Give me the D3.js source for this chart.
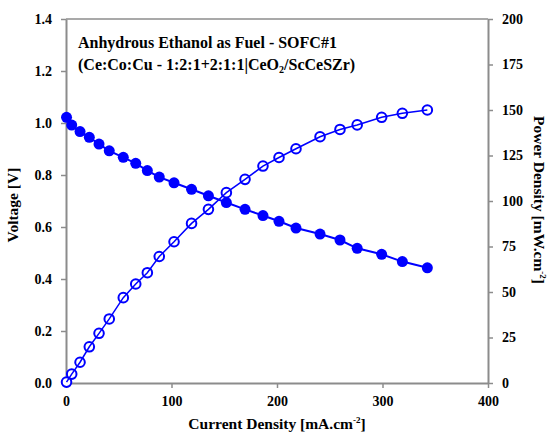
<!DOCTYPE html>
<html>
<head>
<meta charset="utf-8">
<script src="https://cdn.jsdelivr.net/npm/d3@7"></script>
<style>
  body { margin: 0; background: #fff; }
</style>
</head>
<body>
<div id="chart"></div>
<script>
// chart size and plot box
const FRAME_WIDTH = 548;
const FRAME_HEIGHT = 435;
const MARGINS = {left: 66, right: 60, top: 19, bottom: 52};
const VIS_WIDTH = FRAME_WIDTH - MARGINS.left - MARGINS.right;
const VIS_HEIGHT = FRAME_HEIGHT - MARGINS.top - MARGINS.bottom;

// data
const current = [0.5, 5.4, 13.3, 22.1, 31.3, 41.0, 54.3, 66.1, 77.1, 88.4, 102.4, 119, 135, 152,
                 169.7, 186.7, 201.9, 218, 240.8, 259.7, 276, 299.2, 318.8, 342.5];
const voltage = [1.022, 0.992, 0.967, 0.945, 0.919, 0.893, 0.868, 0.845, 0.817, 0.792, 0.770, 0.745,
                 0.720, 0.694, 0.668, 0.644, 0.622, 0.596, 0.573, 0.550, 0.518, 0.495, 0.467, 0.443];
const power = [0.5, 4.9, 11.4, 19.9, 27.3, 35.2, 46.9, 54.4, 60.6, 69.5, 77.6, 87.7,
               95.4, 104.6, 111.9, 119.2, 123.9, 128.7, 135.3, 139.3, 141.8, 146, 148.2, 150];
const xTicks = [0, 100, 200, 300, 400];
const vTicks = [0, 0.2, 0.4, 0.6, 0.8, 1.0, 1.2, 1.4];
const pTicks = [0, 25, 50, 75, 100, 125, 150, 175, 200];

const BLUE = "#0000ff";
const GRAY = "#8c8c8c";
const SERIF = "Liberation Serif";

const FRAME = d3.select("#chart")
                .append("svg")
                  .attr("width", FRAME_WIDTH)
                  .attr("height", FRAME_HEIGHT)
                  .attr("font-family", SERIF)
                  .attr("font-weight", "bold");

const xSCALE = d3.scaleLinear().domain([0, 400]).range([0, VIS_WIDTH]);
const vSCALE = d3.scaleLinear().domain([0, 1.4]).range([VIS_HEIGHT, 0]);
const pSCALE = d3.scaleLinear().domain([0, 200]).range([VIS_HEIGHT, 0]);

const G = FRAME.append("g")
               .attr("transform", "translate(" + MARGINS.left + "," + MARGINS.top + ")");

// top border of the box
G.append("line")
  .attr("x1", 0).attr("x2", VIS_WIDTH)
  .attr("y1", 0).attr("y2", 0)
  .attr("stroke", GRAY).attr("stroke-width", 1.5);

function styleAxis(g) {
  g.attr("font-family", SERIF).attr("font-size", 14);
  g.select(".domain").attr("stroke", GRAY).attr("stroke-width", 2);
  g.selectAll(".tick line").attr("stroke", GRAY).attr("stroke-width", 1.5);
  g.selectAll("text")
    .attr("font-family", SERIF)
    .attr("font-size", "14px")
    .attr("font-weight", "bold")
    .attr("fill", "#000");
}

G.append("g")
  .attr("transform", "translate(0," + VIS_HEIGHT + ")")
  .call(d3.axisBottom(xSCALE).tickValues(xTicks).tickSize(5).tickSizeOuter(0).tickPadding(8))
  .call(styleAxis);

G.append("g")
  .call(d3.axisLeft(vSCALE).tickValues(vTicks).tickFormat(d3.format(".1f")).tickSize(5).tickSizeOuter(0).tickPadding(9))
  .call(styleAxis);

G.append("g")
  .attr("transform", "translate(" + VIS_WIDTH + ",0)")
  .call(d3.axisRight(pSCALE).tickValues(pTicks).tickSize(5).tickSizeOuter(0).tickPadding(9))
  .call(styleAxis);

// voltage curve, filled markers
const vLine = d3.line()
  .x((d, i) => xSCALE(current[i]))
  .y(d => vSCALE(d));

G.append("path")
  .datum(voltage)
  .attr("d", vLine)
  .attr("fill", "none")
  .attr("stroke", BLUE)
  .attr("stroke-width", 2);

G.selectAll(".vpt")
  .data(voltage)
  .enter()
  .append("circle")
    .attr("class", "vpt")
    .attr("cx", (d, i) => xSCALE(current[i]))
    .attr("cy", d => vSCALE(d))
    .attr("r", 5.5)
    .attr("fill", BLUE);

// power curve, open markers
const pLine = d3.line()
  .x((d, i) => xSCALE(current[i]))
  .y(d => pSCALE(d));

G.selectAll(".ppt")
  .data(power)
  .enter()
  .append("circle")
    .attr("class", "ppt")
    .attr("cx", (d, i) => xSCALE(current[i]))
    .attr("cy", d => pSCALE(d))
    .attr("r", 4.8)
    .attr("fill", "#fff")
    .attr("stroke", BLUE)
    .attr("stroke-width", 2);

G.append("path")
  .datum(power)
  .attr("d", pLine)
  .attr("fill", "none")
  .attr("stroke", BLUE)
  .attr("stroke-width", 1.5);

// annotation
G.append("text")
  .attr("x", 12)
  .attr("y", 29)
  .attr("font-size", "16px")
  .text("Anhydrous Ethanol as Fuel - SOFC#1");

const NOTE2 = G.append("text")
  .attr("x", 12)
  .attr("y", 51)
  .attr("font-size", "16px");
NOTE2.append("tspan").text("(Ce:Co:Cu - 1:2:1+2:1:1|CeO");
NOTE2.append("tspan").attr("font-size", "10px").attr("dy", 3).text("2");
NOTE2.append("tspan").attr("dy", -3).text("/ScCeSZr)");

// axis titles
const XT = FRAME.append("text")
  .attr("x", MARGINS.left + VIS_WIDTH / 2)
  .attr("y", 429)
  .attr("text-anchor", "middle")
  .attr("font-size", "15.5px");
XT.append("tspan").text("Current Density [mA.cm");
XT.append("tspan").attr("font-size", "9px").attr("dy", -6).text("-2");
XT.append("tspan").attr("dy", 6).text("]");

FRAME.append("text")
  .attr("transform", "translate(18,205) rotate(-90)")
  .attr("text-anchor", "middle")
  .attr("font-size", "15.5px")
  .text("Voltage [V]");

const PT = FRAME.append("text")
  .attr("transform", "translate(534,200) rotate(90)")
  .attr("text-anchor", "middle")
  .attr("font-size", "15.5px");
PT.append("tspan").text("Power Density [mW.cm");
PT.append("tspan").attr("font-size", "9px").attr("dy", -6).text("-2");
PT.append("tspan").attr("dy", 6).text("]");
</script>
</body>
</html>
